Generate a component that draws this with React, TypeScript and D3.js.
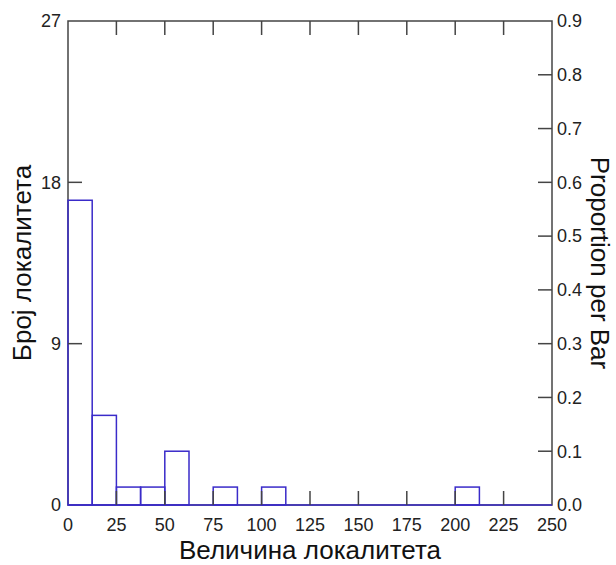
import * as d3 from "d3";

const W = 616;
const H = 565;
const MARGIN = { top: 21, right: 64, bottom: 60, left: 68 };

// histogram bins (width 12.5) and counts
const binStarts = [0, 12.5, 25, 37.5, 50, 62.5, 75, 87.5, 100, 112.5, 125, 137.5, 150, 162.5, 175, 187.5, 200, 212.5, 225, 237.5];
const counts = [17, 5, 1, 1, 3, 0, 1, 0, 1, 0, 0, 0, 0, 0, 0, 0, 1, 0, 0, 0];
const BIN_WIDTH = 12.5;

const xTicks = [0, 25, 50, 75, 100, 125, 150, 175, 200, 225, 250];
const yTicks = [0, 9, 18, 27];
const propTicks = [0, 0.1, 0.2, 0.3, 0.4, 0.5, 0.6, 0.7, 0.8, 0.9];

const xLabel = "Величина локалитета";
const yLabel = "Број локалитета";
const y2Label = "Proportion per Bar";

const FRAME = "#444";
const BAR = "#3a2bc9";
const TICK = 14;

export default function App() {
  const bw = W - MARGIN.left - MARGIN.right;
  const bh = H - MARGIN.top - MARGIN.bottom;
  const total = d3.sum(counts);

  const x = d3.scaleLinear().domain([0, 250]).range([0, bw]);
  const y = d3.scaleLinear().domain([0, 27]).range([bh, 0]);
  const y2 = d3.scaleLinear().domain([0, 27 / total]).range([bh, 0]);

  const bars = binStarts.map((s, i) => ({ s, c: counts[i] }));

  return (
    <svg width={W} height={H} style={{ position: "absolute", left: 0, top: 0 }} fontFamily="'Liberation Sans', Arial, sans-serif">
      <g transform={`translate(${MARGIN.left},${MARGIN.top})`}>
        {/* frame */}
        <rect x={0} y={0} width={bw} height={bh} fill="none" stroke={FRAME} strokeWidth={1.5} />

        {/* bars */}
        {bars.map((b, i) =>
          b.c > 0 ? (
            <rect key={i} x={x(b.s)} y={y(b.c)} width={x(b.s + BIN_WIDTH) - x(b.s)} height={bh - y(b.c)}
              fill="none" stroke={BAR} strokeWidth={1.5} />
          ) : null
        )}
        <line x1={0} x2={bw} y1={bh} y2={bh} stroke={BAR} strokeWidth={1.5} />

        {/* x ticks bottom and top */}
        {xTicks.slice(1, -1).map((t) => (
          <g key={t}>
            <line x1={x(t)} x2={x(t)} y1={bh} y2={bh - TICK} stroke={FRAME} strokeWidth={1.5} />
            <line x1={x(t)} x2={x(t)} y1={0} y2={TICK} stroke={FRAME} strokeWidth={1.5} />
          </g>
        ))}
        {xTicks.map((t) => (
          <text key={t} x={x(t)} y={bh + 26} textAnchor="middle" fontSize={18} fill="#222">{t}</text>
        ))}

        {/* left ticks */}
        {yTicks.map((t) => (
          <g key={t}>
            {t > 0 && t < 27 && (
              <line x1={0} x2={TICK} y1={y(t)} y2={y(t)} stroke={FRAME} strokeWidth={1.5} />
            )}
            <text x={-7} y={y(t)} dy="0.35em" textAnchor="end" fontSize={18} fill="#222">{t}</text>
          </g>
        ))}

        {/* right ticks */}
        {propTicks.map((t) => (
          <g key={t}>
            {t > 0 && t < 0.85 && (
              <line x1={bw} x2={bw - TICK} y1={y2(t)} y2={y2(t)} stroke={FRAME} strokeWidth={1.5} />
            )}
            <text x={bw + 5} y={y2(t)} dy="0.35em" textAnchor="start" fontSize={18} fill="#222">{t.toFixed(1)}</text>
          </g>
        ))}

        {/* axis titles */}
        <text x={bw / 2} y={bh + 54} textAnchor="middle" fontSize={26} fill="#111">{xLabel}</text>
        <text transform={`translate(${-37},${bh / 2}) rotate(-90)`} textAnchor="middle" fontSize={26} fill="#111">{yLabel}</text>
        <text transform={`translate(${bw + 39},${bh / 2}) rotate(90)`} textAnchor="middle" fontSize={26} fill="#111">{y2Label}</text>
      </g>
    </svg>
  );
}
